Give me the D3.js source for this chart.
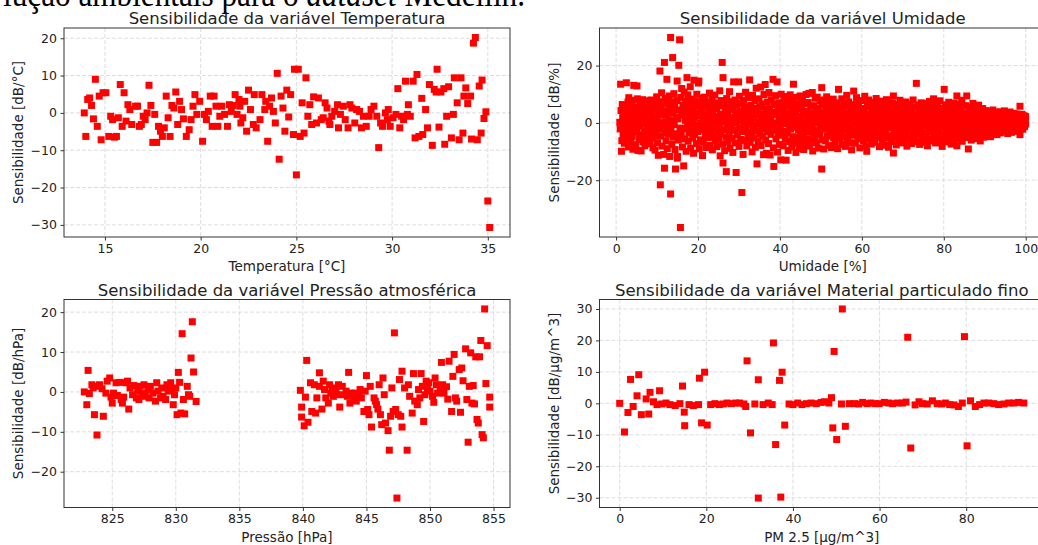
<!DOCTYPE html>
<html>
<head>
<meta charset="utf-8">
<script src="https://d3js.org/d3.v7.min.js"></script>
<style>
  body { margin: 0; background: #fff; }
  svg { display: block; }
</style>
</head>
<body>
<svg id="fig" width="1038" height="545"></svg>
<script>

// values: [x, sensitivity]
const temperatura = [
  [13.92,0],[14.0,-6.3],[14.1,3.6],[14.2,4.0],[14.3,2.0],[14.4,-1.6],[14.5,9.0],[14.6,-3.6],[14.7,4.5],[14.8,-7.2],
  [14.9,5.4],[15.05,5.4],[15.2,-6.3],[15.3,-0.9],[15.4,-1.8],[15.5,-6.5],[15.6,-6.3],[15.7,-1.3],[15.8,7.6],[15.9,-3.6],
  [16.0,5.4],[16.1,-2.2],[16.2,2.2],[16.3,0.9],[16.4,-3.1],[16.6,1.8],[16.7,1.8],[16.8,-3.6],[16.9,-3.1],[17.0,-0.9],
  [17.1,-1.8],[17.2,0],[17.3,7.4],[17.4,2.0],[17.5,-7.9],[17.6,-0.4],[17.7,-7.9],[17.8,-3.6],[17.9,-4.9],[18.0,-6.3],
  [18.1,-4.0],[18.2,4.5],[18.3,-1.3],[18.4,-6.3],[18.5,2.0],[18.6,1.3],[18.7,5.6],[18.8,-3.1],[18.9,3.1],[19.0,0.9],
  [19.1,-1.6],[19.25,-6.3],[19.4,-4.5],[19.5,-1.8],[19.6,1.8],[19.7,4.9],[19.8,-0.4],[19.95,3.1],[20.1,-7.6],[20.2,-0.4],
  [20.3,-1.8],[20.4,0.4],[20.5,4.5],[20.6,-3.6],[20.7,4.5],[20.8,1.8],[20.9,-3.6],[21.0,-0.9],[21.1,1.8],[21.25,-0.4],
  [21.4,-3.6],[21.5,2.2],[21.6,0.4],[21.7,2.0],[21.8,4.9],[21.9,-0.4],[22.0,3.6],[22.05,1.8],[22.1,-2.7],[22.2,-1.3],
  [22.3,3.1],[22.4,-4.9],[22.5,6.1],[22.6,0.9],[22.75,-3.1],[22.8,4.9],[22.9,-4.0],[23.1,-1.8],[23.2,4.9],[23.35,0.9],
  [23.4,3.1],[23.5,-7.6],[23.6,1.8],[23.7,4.0],[23.8,0.4],[23.9,-2.7],[24.0,10.6],[24.1,-12.4],[24.2,4.5],[24.3,1.3],
  [24.4,-4.9],[24.5,6.1],[24.6,-1.1],[24.7,4.9],[24.85,-5.8],[24.9,11.7],[25.0,-16.6],[25.1,11.7],[25.2,-6.3],[25.3,2.7],
  [25.4,-5.4],[25.5,9.4],[25.6,-0.9],[25.7,2.2],[25.8,-3.1],[25.9,4.3],[26.05,-2.7],[26.15,4.0],[26.3,-1.8],[26.4,-1.3],
  [26.5,2.7],[26.6,1.3],[26.7,-2.2],[26.75,-3.1],[26.85,-0.9],[27.0,0.4],[27.15,2.2],[27.2,-4.0],[27.3,-0.4],[27.45,1.8],
  [27.55,-1.8],[27.7,-4.0],[27.8,2.2],[27.9,1.3],[28.05,-2.7],[28.15,0.9],[28.3,0.4],[28.4,-4.0],[28.5,-0.9],[28.65,-3.6],
  [28.8,-0.9],[28.9,0.9],[29.05,1.8],[29.2,-0.9],[29.3,-9.3],[29.4,-2.7],[29.5,-3.6],[29.65,0],[29.75,-1.8],[29.8,0.9],
  [29.9,-3.6],[30.05,-1.3],[30.2,-0.4],[30.3,6.5],[30.4,-4.0],[30.5,-0.9],[30.6,-1.8],[30.7,8.5],[30.8,-0.4],[30.85,2.2],
  [30.95,-0.9],[31.1,8.5],[31.2,-6.7],[31.3,10.3],[31.4,-6.3],[31.55,3.9],[31.6,-5.8],[31.75,0.9],[31.85,-4.0],[31.95,7.6],
  [32.1,-8.7],[32.2,6.3],[32.3,5.6],[32.35,11.7],[32.45,-3.8],[32.55,5.6],[32.7,6.5],[32.75,-8.4],[32.85,-0.9],[32.95,7.0],
  [33.1,-6.7],[33.2,-0.4],[33.25,9.4],[33.4,2.7],[33.5,-7.2],[33.6,9.4],[33.7,-5.4],[33.75,4.5],[33.85,6.7],[33.95,2.5],
  [34.1,4.5],[34.15,-7.0],[34.25,18.7],[34.35,20.2],[34.45,-7.2],[34.55,7.2],[34.65,-5.4],[34.7,8.8],[34.8,-1.5],[34.9,0.3],
  [35.0,-23.6],[35.1,-30.7]
];

const umidade = [
  [0.9,0.2],[1.0,-2.1],[1.1,13.5],[1.2,4.3],[1.3,-9.9],[1.4,-6.2],[1.5,6.4],[1.6,1.8],[1.7,-4.0],[1.8,3.1],[1.9,-0.8],[2.0,-7.1],[2.1,0.9],[2.2,5.2],[2.3,-2.9],[2.5,14.0],[2.6,-5.5],[2.7,2.4],[2.8,-1.3],[2.9,7.3],[3.0,-8.4],[3.1,8.8],[3.2,-3.6],[3.3,1.2],[3.4,4.6],[3.5,-1.9],[3.6,-6.8],[3.7,6.1],[3.8,0.3],[3.9,-4.7],[4.0,2.9],[4.1,-9.2],[4.2,7.9],[4.3,13.1],[4.4,-2.4],[4.5,3.8],[4.6,-0.5],[4.7,5.4],[4.8,-7.6],[4.9,1.5],
  [5.0,-3.3],[5.1,12.9],[5.2,8.4],[5.3,-9.6],[5.4,0.8],[5.5,4.9],[5.6,-5.8],[5.7,2.2],[5.8,-1.1],[5.9,7.0],[6.0,-4.2],[6.1,-9.8],[6.2,3.4],[6.3,5.9],[6.4,-0.2],[6.5,8.1],[6.6,-6.6],[6.7,1.6],[6.8,-2.8],[6.9,4.1],[7.0,-8.0],[7.1,6.7],[7.2,0.5],[7.3,-4.9],[7.4,2.6],[7.5,7.7],[7.6,-1.7],[7.7,-6.1],[7.8,4.4],[7.9,-0.9],[8.0,1.9],[8.1,6.3],[8.2,-3.1],[8.3,-7.3],[8.4,3.0],[8.5,8.0],[8.6,-1.4],[8.7,5.1],[8.8,-5.2],[8.9,0.6],[9.0,-8.7],[9.1,7.2],[9.2,2.1],[9.3,-2.5],[9.4,4.7],[9.5,-9.5],[9.6,-0.4],[9.7,6.0],[9.8,-4.4],[9.9,9.1],
  [10.0,1.3],[10.1,-6.9],[10.2,3.6],[10.3,-11.3],[10.4,7.4],[10.5,-2.2],[10.6,0.1],[10.7,18.1],[10.8,-21.6],[10.9,5.0],[11.0,-4.6],[11.1,10.5],[11.2,-8.1],[11.3,2.7],[11.4,-1.0],[11.5,6.8],[11.6,-11.0],[11.7,4.2],[11.8,21.1],[11.8,-15.8],[11.9,-3.4],[12.0,8.6],[12.1,0.4],[12.2,-6.3],[12.3,3.2],[12.4,15.2],[12.5,-9.0],[12.6,-1.6],[12.7,6.5],[12.8,-4.0],[12.9,1.1],[13.0,9.4],[13.1,-11.7],[13.2,4.8],[13.3,29.8],[13.3,-24.8],[13.4,-2.6],[13.5,7.1],[13.6,-7.5],[13.7,0.7],[13.8,22.8],[13.9,3.5],[14.0,-5.0],[14.1,10.2],[14.2,-0.6],[14.3,5.6],[14.4,-9.3],[14.5,-16.1],[14.6,2.0],[14.7,-3.8],[14.8,7.8],[14.9,14.6],[14.95,-12.3],
  [15.0,-11.7],[15.1,1.4],[15.2,-6.0],[15.3,20.1],[15.4,4.5],[15.5,29.0],[15.6,-1.8],[15.7,-36.5],[15.8,8.9],[15.9,-4.3],[16.0,12.0],[16.1,2.8],[16.2,-8.4],[16.3,6.2],[16.4,-2.0],[16.5,-15.0],[16.6,10.8],[16.7,3.9],[16.8,-5.6],[16.9,0.9],[17.0,7.5],[17.1,-9.9],[17.2,4.6],[17.3,15.8],[17.4,-1.2],[17.5,9.8],[17.6,-6.4],[17.7,2.3],[17.8,-3.5],[17.9,6.6],[18.0,-0.3],[18.1,12.6],[18.2,-8.8],[18.3,4.0],[18.4,-2.7],[18.5,8.3],[18.6,0.2],[18.7,-5.3],[18.8,5.3],[18.9,-10.6],[19.0,14.9],[19.1,1.7],[19.2,-4.1],[19.3,7.6],[19.4,-1.5],[19.5,3.3],[19.6,-7.2],[19.7,10.0],[19.8,-0.7],[19.9,5.8],
  [20.0,-3.0],[20.1,13.9],[20.2,14.6],[20.3,-9.1],[20.4,2.5],[20.5,6.9],[20.6,-5.9],[20.7,0.0],[20.8,4.3],[20.9,-2.3],[21.0,8.7],[21.1,-11.4],[21.2,1.0],[21.3,-6.7],[21.4,5.5],[21.5,-1.3],[21.6,9.0],[21.7,3.0],[21.8,-4.5],[21.9,6.4],[22.0,-8.6],[22.1,0.6],[22.2,2.4],[22.3,-2.9],[22.4,7.2],[22.5,-5.1],[22.6,4.1],[22.7,-0.5],[22.8,10.4],[22.9,-7.8],[23.0,1.9],[23.1,-3.7],[23.2,5.7],[23.3,-1.0],[23.4,8.2],[23.5,-9.4],[23.6,3.6],[23.7,-4.8],[23.8,0.8],[23.9,6.2],[24.0,-2.1],[24.1,9.7],[24.2,-6.2],[24.3,2.2],[24.4,-0.2],[24.5,4.9],[24.6,-8.3],[24.7,7.0],[24.8,-3.3],[24.9,1.4],
  [25.0,-5.7],[25.1,5.9],[25.2,-1.4],[25.3,11.2],[25.4,-11.5],[25.5,3.1],[25.6,-3.9],[25.7,7.8],[25.8,0.3],[25.9,21.1],[26.0,-7.4],[26.1,15.8],[26.1,-14.0],[26.2,2.7],[26.3,-2.4],[26.4,6.5],[26.5,-9.7],[26.6,0.9],[26.7,4.4],[26.8,-5.0],[26.9,-17.0],[27.0,8.5],[27.1,-0.8],[27.2,3.7],[27.3,-6.6],[27.4,1.5],[27.5,6.0],[27.6,-3.2],[27.7,10.9],[27.8,-8.9],[27.9,0.1],[28.0,4.6],[28.1,-1.7],[28.2,7.4],[28.3,-5.4],[28.4,2.0],[28.5,-10.3],[28.6,5.3],[28.7,14.3],[28.8,-2.6],[28.9,0.5],[29.0,8.0],[29.1,-7.0],[29.2,3.4],[29.3,-17.3],[29.4,-0.1],[29.5,6.3],[29.6,-4.2],[29.7,1.7],[29.9,14.3],
  [30.0,-8.2],[30.1,9.3],[30.2,-1.9],[30.3,4.0],[30.4,-5.8],[30.5,0.7],[30.6,6.8],[30.7,-24.3],[30.8,-3.0],[30.9,2.6],[31.0,-11.0],[31.1,7.9],[31.2,-0.9],[31.3,4.8],[31.4,-6.1],[31.5,1.2],[31.6,10.7],[31.7,-2.5],[31.8,3.5],[31.9,-8.0],[32.0,5.6],[32.1,-0.4],[32.2,-4.6],[32.3,8.8],[32.4,2.1],[32.6,15.0],[32.7,-6.8],[32.8,0.2],[32.9,6.1],[33.0,-3.4],[33.1,3.9],[33.2,-10.1],[33.3,9.6],[33.4,-1.6],[33.5,1.8],[33.6,-5.3],[33.7,5.1],[33.8,-0.6],[33.9,7.7],[34.0,-8.5],[34.1,2.9],[34.2,12.1],[34.4,-14.3],[34.5,-2.8],[34.6,4.2],[34.7,-6.4],[34.8,0.4],[34.9,8.4],[35.0,-3.9],
  [35.1,5.7],[35.2,-0.3],[35.3,12.5],[35.4,-7.9],[35.5,2.3],[35.6,-2.0],[35.7,6.6],[35.8,-4.5],[35.9,1.0],[36.0,-11.1],[36.1,9.9],[36.2,3.2],[36.3,-1.1],[36.4,13.4],[36.5,-6.0],[36.6,4.7],[36.7,-10.6],[36.8,0.6],[36.9,7.3],[37.0,-3.1],[37.1,2.4],[37.2,-7.2],[37.3,10.6],[37.4,-0.9],[37.5,5.0],[37.6,-11.2],[37.7,1.3],[37.8,-4.0],[37.9,8.1],[38.0,-1.8],[38.1,3.7],[38.3,15.2],[38.4,-8.7],[38.5,-15.2],[38.6,6.4],[38.7,-2.7],[38.8,0.0],[38.9,9.5],[39.0,-5.6],[39.1,2.8],[39.2,-0.7],[39.3,14.3],[39.4,-10.2],[39.5,4.5],[39.6,-3.6],[39.7,7.0],[39.8,1.1],[39.9,-7.5],
  [40.0,5.2],[40.1,-1.4],[40.2,-12.9],[40.3,10.0],[40.4,2.0],[40.5,-4.3],[40.6,6.9],[40.7,-0.2],[40.8,-8.0],[40.9,3.9],[41.0,9.2],[41.1,-2.9],[41.2,1.4],[41.3,-5.7],[41.4,5.9],[41.5,-13.0],[41.6,0.9],[41.7,8.5],[41.8,-3.5],[41.9,3.3],[42.0,-9.6],[42.1,6.2],[42.2,-0.5],[42.3,2.5],[42.4,-6.5],[42.5,9.8],[42.6,-2.2],[42.7,4.4],[42.8,0.3],[42.9,-8.4],[43.0,7.5],[43.1,-4.8],[43.3,13.5],[43.4,1.6],[43.5,-1.5],[43.6,5.3],[43.7,-7.1],[43.8,3.0],[43.9,-10.3],[44.0,8.9],[44.1,-0.6],[44.2,2.2],[44.3,-5.0],[44.4,6.5],[44.5,-2.4],[44.6,0.8],[44.7,-8.9],[44.8,4.8],[44.9,9.4],
  [45.0,-3.8],[45.1,1.9],[45.2,-6.7],[45.3,5.5],[45.4,-0.9],[45.5,8.2],[45.6,-4.4],[45.7,2.8],[45.8,-9.3],[45.9,0.2],[46.0,6.8],[46.1,-2.0],[46.2,3.6],[46.3,-7.7],[46.4,9.9],[46.5,-1.2],[46.6,4.1],[46.7,-5.5],[46.8,1.0],[46.9,7.1],[47.0,-3.0],[47.1,10.3],[47.2,-8.1],[47.3,2.3],[47.4,-0.4],[47.5,5.8],[47.6,-6.0],[47.7,3.4],[47.8,-1.7],[47.9,10.6],[48.0,-9.8],[48.1,0.6],[48.2,6.0],[48.3,-3.6],[48.4,2.9],[48.5,-5.1],[48.6,8.6],[48.7,-0.1],[48.8,4.6],[48.9,-7.0],[49.0,1.5],[49.1,9.0],[49.2,-2.6],[49.3,5.2],[49.4,-8.8],[49.5,0.4],[49.6,3.9],[49.7,-4.1],[49.8,7.7],[49.9,-1.1],
  [50.1,2.6],[50.2,12.3],[50.2,-16.1],[50.3,-5.9],[50.4,6.3],[50.5,-0.6],[50.6,3.2],[50.7,-9.1],[50.8,8.0],[50.9,-2.2],[51.0,1.2],[51.1,-6.3],[51.2,5.0],[51.3,-0.2],[51.4,9.1],[51.5,-4.6],[51.6,2.4],[51.7,-1.9],[51.8,6.6],[51.9,-7.9],[52.0,0.9],[52.1,4.3],[52.2,-3.3],[52.3,7.4],[52.4,-0.8],[52.5,2.1],[52.6,-8.6],[52.7,5.6],[52.8,-2.0],[52.9,0.2],[53.0,8.3],[53.1,-5.2],[53.2,3.0],[53.3,-1.3],[53.4,6.1],[53.5,-7.3],[53.6,1.8],[53.7,4.9],[53.8,-3.7],[53.9,0.5],[54.0,7.0],[54.1,-9.0],[54.3,11.7],[54.4,-1.6],[54.5,3.7],[54.6,-5.4],[54.7,2.0],[54.8,-0.3],[54.9,5.4],
  [55.0,-3.2],[55.1,8.4],[55.2,-7.5],[55.3,1.3],[55.4,4.0],[55.5,-1.0],[55.6,6.7],[55.7,-4.9],[55.8,0.0],[55.9,2.9],[56.0,-8.2],[56.1,5.9],[56.2,-2.5],[56.3,9.6],[56.4,0.7],[56.5,-5.8],[56.6,3.3],[56.7,-0.9],[56.8,7.3],[56.9,-3.9],[57.0,1.6],[57.1,-6.9],[57.2,4.5],[57.3,-1.4],[57.4,2.2],[57.5,-9.4],[57.6,6.4],[57.7,0.3],[57.8,-2.8],[58.0,11.1],[58.1,3.6],[58.2,-4.3],[58.3,1.0],[58.4,-7.1],[58.5,5.3],[58.6,-0.5],[58.7,8.8],[58.8,-3.0],[58.9,2.5],[59.0,-5.6],[59.1,0.8],[59.2,6.9],[59.3,-1.8],[59.4,3.9],[59.5,-8.7],[59.6,1.4],[59.7,-0.2],[59.8,5.0],[59.9,-4.0],
  [60.0,2.7],[60.1,7.8],[60.2,-2.3],[60.3,0.4],[60.4,-6.2],[60.5,4.7],[60.6,-1.2],[60.7,9.3],[60.8,-4.7],[60.9,1.9],[61.0,-8.0],[61.2,-9.9],[61.3,6.0],[61.4,-0.7],[61.5,3.1],[61.6,-3.4],[61.7,8.0],[61.8,0.1],[61.9,-5.5],[62.0,2.3],[62.1,5.6],[62.2,-1.5],[62.3,-7.4],[62.4,4.3],[62.5,0.6],[62.6,-2.9],[62.7,7.1],[62.8,-4.4],[62.9,1.7],[63.0,-0.3],[63.1,5.1],[63.2,-6.8],[63.3,2.9],[63.4,-1.9],[63.5,8.5],[63.6,-3.6],[63.7,0.9],[63.8,4.6],[63.9,-5.0],[64.0,1.2],[64.1,6.7],[64.2,-2.4],[64.3,-8.3],[64.4,3.4],[64.5,-0.4],[64.6,5.8],[64.7,-4.1],[64.8,2.0],[64.9,7.6],
  [65.0,-6.1],[65.1,0.2],[65.2,3.8],[65.3,-2.6],[65.4,6.2],[65.5,-0.8],[65.6,-7.8],[65.7,4.9],[65.8,1.5],[65.9,-3.3],[66.0,8.1],[66.1,-5.3],[66.2,2.6],[66.3,-1.0],[66.4,5.5],[66.5,-8.5],[66.6,0.5],[66.7,3.5],[66.8,-4.5],[66.9,7.0],[67.0,-1.6],[67.1,1.8],[67.2,-6.5],[67.3,4.2],[67.4,-0.1],[67.5,6.9],[67.7,9.4],[67.7,-10.5],[67.8,-2.7],[67.9,2.3],[68.0,-5.0],[68.1,5.7],[68.2,-0.6],[68.3,3.0],[68.4,-7.7],[68.5,1.1],[68.6,6.4],[68.7,-3.5],[68.8,0.3],[68.9,4.4],[69.0,-5.9],[69.1,2.2],[69.2,-1.3],[69.3,7.9],[69.4,-4.2],[69.5,0.9],[69.6,3.7],[69.7,-7.0],[69.8,5.3],[69.9,-0.5],
  [70.0,2.4],[70.1,-3.1],[70.2,6.0],[70.3,-6.0],[70.4,0.6],[70.5,4.1],[70.6,-1.7],[70.7,7.3],[70.8,-4.7],[70.9,1.5],[71.0,-8.1],[71.1,3.3],[71.2,-0.2],[71.3,5.8],[71.4,-2.5],[71.5,0.4],[71.6,-5.6],[71.7,6.6],[71.8,2.0],[71.9,-1.1],[72.0,4.7],[72.1,-7.2],[72.2,0.9],[72.3,3.5],[72.4,-3.8],[72.5,8.0],[72.6,-0.7],[72.7,1.9],[72.8,-5.3],[72.9,5.5],[73.0,-2.1],[73.1,0.1],[73.3,13.8],[73.4,-6.6],[73.5,2.7],[73.6,-1.4],[73.7,6.3],[73.8,-4.0],[73.9,1.2],[74.0,4.4],[74.1,-7.5],[74.2,0.2],[74.3,3.0],[74.4,-2.8],[74.5,7.0],[74.6,-0.6],[74.7,-5.1],[74.8,2.1],[74.9,5.2],
  [75.0,-3.5],[75.1,0.8],[75.2,-6.8],[75.3,4.0],[75.4,-1.0],[75.5,6.8],[75.6,1.6],[75.7,-4.6],[75.8,3.2],[75.9,-0.1],[76.0,-8.0],[76.1,5.6],[76.2,-2.0],[76.3,2.5],[76.4,-5.7],[76.5,7.5],[76.6,0.5],[76.7,-3.2],[76.8,4.5],[76.9,-1.5],[77.0,1.0],[77.1,-6.3],[77.2,6.1],[77.3,-0.4],[77.4,3.6],[77.5,8.4],[77.6,-4.3],[77.7,1.3],[77.8,-2.4],[77.9,5.0],[78.0,-7.0],[78.1,0.0],[78.2,3.9],[78.3,-1.8],[78.4,6.5],[78.5,-5.0],[78.6,2.2],[78.7,-0.8],[78.8,4.8],[78.9,-3.0],[79.0,0.7],[79.1,7.7],[79.2,-6.1],[79.3,2.8],[79.4,-1.2],[79.5,5.1],[79.6,-8.2],[79.7,1.4],[79.8,-0.3],[79.9,3.4],
  [80.1,11.7],[80.2,-4.4],[80.3,1.9],[80.4,6.3],[80.5,-2.3],[80.6,0.3],[80.7,-6.6],[80.8,4.3],[80.9,-0.9],[81.0,2.6],[81.1,-3.9],[81.2,7.2],[81.3,0.9],[81.4,-5.4],[81.5,3.6],[81.6,-1.6],[81.7,5.4],[81.8,-7.4],[81.9,1.1],[82.0,-0.5],[82.1,4.9],[82.2,-3.1],[82.3,2.0],[82.4,6.9],[82.5,-5.9],[82.6,0.2],[82.7,3.0],[82.8,-2.0],[82.9,5.7],[83.0,-4.8],[83.2,9.4],[83.2,-8.0],[83.3,1.5],[83.4,-1.1],[83.5,4.1],[83.6,-3.4],[83.7,0.6],[83.8,6.6],[83.9,-5.6],[84.0,2.3],[84.1,-0.2],[84.2,4.6],[84.3,-2.6],[84.4,7.9],[84.5,-6.4],[84.6,1.2],[84.7,3.3],[84.8,-1.3],[84.9,5.9],
  [85.0,-4.1],[85.1,0.4],[85.2,2.9],[85.3,-2.2],[85.4,6.0],[85.6,9.4],[85.7,-5.1],[85.8,1.7],[85.9,-0.6],[86.0,-9.1],[86.1,4.2],[86.2,-3.6],[86.3,2.4],[86.4,-1.4],[86.5,5.3],[86.6,0.1],[86.7,-6.0],[86.8,3.7],[86.9,-2.4],[87.0,1.0],[87.1,6.8],[87.2,-4.3],[87.3,2.1],[87.4,-0.7],[87.5,4.5],[87.6,-3.2],[87.7,0.8],[87.8,-5.5],[87.9,3.1],[88.0,-1.7],[88.1,5.6],[88.2,-0.1],[88.3,2.6],[88.4,-4.0],[88.5,6.2],[88.6,1.3],[88.7,-2.9],[88.8,3.9],[88.9,-6.3],[89.0,0.5],[89.1,4.8],[89.2,-1.8],[89.3,2.2],[89.4,-3.7],[89.5,5.0],[89.6,0.0],[89.7,-5.0],[89.8,3.4],[89.9,-1.0],
  [90.0,1.8],[90.1,-2.7],[90.2,4.3],[90.3,-0.4],[90.4,2.8],[90.5,-4.4],[90.6,1.0],[90.7,3.6],[90.8,-1.9],[90.9,0.6],[91.0,-3.4],[91.1,4.0],[91.2,-0.8],[91.3,2.3],[91.4,-4.8],[91.5,1.5],[91.6,3.3],[91.7,-2.2],[91.8,0.2],[91.9,-3.0],[92.0,4.5],[92.1,-0.5],[92.2,2.0],[92.3,-3.9],[92.4,1.2],[92.5,3.7],[92.6,-1.5],[92.7,0.4],[92.8,-2.6],[92.9,2.7],[93.0,-4.1],[93.1,1.1],[93.2,3.0],[93.3,-0.9],[93.4,-2.9],[93.5,2.1],[93.6,0.1],[93.7,-3.5],[93.8,3.9],[93.9,-1.3],[94.0,1.7],[94.1,-2.4],[94.2,0.8],[94.3,3.2],[94.4,-3.2],[94.5,0.3],[94.6,2.4],[94.7,-1.7],[94.8,4.2],[94.9,-0.6],
  [95.0,1.4],[95.1,-3.1],[95.2,2.9],[95.3,0.0],[95.4,-1.9],[95.5,3.5],[95.6,-3.7],[95.7,1.0],[95.8,-0.7],[95.9,2.5],[96.0,-2.5],[96.1,0.6],[96.2,3.8],[96.3,-1.2],[96.4,1.9],[96.5,-3.3],[96.6,0.2],[96.7,2.6],[96.8,-1.8],[96.9,1.2],[97.0,-2.8],[97.1,3.3],[97.2,-0.3],[97.3,1.6],[97.4,-2.1],[97.5,2.8],[97.6,0.7],[97.7,-1.5],[97.8,3.1],[97.9,-2.9],[98.0,1.3],[98.1,-0.2],[98.2,2.3],[98.3,-1.1],[98.4,0.9],[98.5,-2.4],[98.6,5.8],[98.6,-4.1],[98.7,2.0],[98.8,-0.8],[98.9,1.5],[99.0,-1.7],[99.1,3.0],[99.2,0.4],[99.3,-2.2],[99.4,1.8],[99.5,-0.5],[99.6,2.5],[99.7,-1.3],[99.8,0.8],[99.9,1.9],[100.0,-0.4],[100.0,2.2]
];

const pressao = [
  [822.8,0],[823.0,-3.2],[823.1,5.4],[823.2,-0.4],[823.4,1.8],[823.5,1.0],[823.6,-5.7],[823.8,-10.8],[823.8,1.4],[824.0,1.8],
  [824.2,0.8],[824.3,-6.1],[824.5,-0.3],[824.6,2.7],[824.8,3.5],[824.9,-1.3],[825.0,-2.8],[825.1,-0.3],[825.3,2.3],[825.4,-0.9],
  [825.6,2.4],[825.7,-1.9],[825.8,-2.8],[825.9,-1.3],[826.1,2.3],[826.2,2.7],[826.3,-4.3],[826.4,1.0],[826.6,-0.7],[826.7,1.6],
  [826.9,-1.5],[827.0,0.2],[827.1,-1.9],[827.2,1.4],[827.4,-0.4],[827.5,1.8],[827.6,-1.1],[827.8,0.6],[827.9,-1.5],[828.0,1.4],
  [828.2,-0.3],[828.4,-2.3],[828.5,2.3],[828.6,0.2],[828.8,-1.5],[828.9,1.0],[829.0,-1.1],[829.2,-1.9],[829.3,1.8],[829.4,0.2],
  [829.6,2.3],[829.7,0.6],[829.8,-3.2],[829.9,-0.7],[830.0,1.0],[830.1,-5.7],[830.2,4.9],[830.3,2.4],[830.4,-5.3],[830.5,14.6],
  [830.6,-1.9],[830.7,-5.5],[830.9,1.4],[831.0,-0.7],[831.1,-1.1],[831.2,8.5],[831.3,17.6],[831.4,5.0],[831.6,-2.4],
  [839.8,0.4],[839.9,-6.3],[839.9,-3.8],[840.1,-8.5],[840.2,-1.3],[840.3,7.9],[840.4,-7.6],[840.6,2.3],[840.7,-4.9],[840.9,1.8],
  [841.0,-5.3],[841.1,-1.5],[841.3,1.4],[841.3,4.8],[841.5,-4.3],[841.6,2.7],[841.7,0.6],[841.8,-1.5],[842.0,-2.8],[842.1,1.8],
  [842.2,-0.3],[842.3,1.0],[842.4,-1.1],[842.6,0.6],[842.7,-0.7],[842.8,1.8],[842.9,-3.8],[843.1,1.4],[843.2,-0.7],[843.4,0.2],
  [843.5,-1.1],[843.6,4.9],[843.7,-2.8],[843.8,-0.3],[844.0,-1.5],[844.1,-0.3],[844.2,-2.3],[844.4,-0.7],[844.5,0.6],[844.6,-1.5],
  [844.8,-4.9],[844.9,0.2],[845.0,4.1],[845.1,-4.4],[845.2,-5.7],[845.3,1.4],[845.4,-8.8],[845.6,-1.5],[845.7,-2.3],[845.8,-3.2],
  [845.9,-4.3],[846.0,1.8],[846.1,-5.7],[846.2,-8.2],[846.3,3.5],[846.4,-0.7],[846.5,-7.8],[846.7,-9.7],[846.8,-14.6],[846.9,-6.1],
  [847.0,1.0],[847.1,-4.9],[847.2,14.8],[847.3,-4.4],[847.4,-26.6],[847.5,-5.7],[847.6,3.1],[847.7,-6.1],[847.8,-8.8],[847.8,5.2],
  [848.0,1.0],[848.2,-14.6],[848.3,1.8],[848.4,-1.1],[848.6,-5.3],[848.7,4.6],[848.8,-2.3],[849.0,-3.2],[849.1,0.6],[849.2,-1.5],
  [849.3,4.6],[849.4,1.4],[849.5,-7.4],[849.6,-0.7],[849.7,2.7],[849.8,0.6],[849.9,2.3],[850.0,0.2],[850.2,-1.1],[850.3,-2.6],
  [850.4,3.5],[850.5,1.8],[850.6,-0.3],[850.8,1.0],[850.9,7.4],[851.0,1.8],[851.1,-0.3],[851.3,1.3],[851.4,-1.8],[851.5,7.7],
  [851.7,-4.9],[851.8,3.9],[851.9,9.4],[852.0,-1.5],[852.1,-2.3],[852.3,5.6],[852.4,-5.1],[852.5,6.0],[852.6,2.8],[852.8,10.8],
  [852.9,-1.9],[853.0,-12.6],[853.1,1.4],[853.2,9.8],[853.3,-2.8],[853.4,1.6],[853.5,-3.0],[853.6,8.8],[853.7,-6.9],[853.8,-7.8],
  [853.9,8.8],[854.0,12.9],[854.1,-10.7],[854.2,-11.5],[854.3,20.8],[854.4,2.1],[854.5,11.6],[854.7,-3.8],[854.7,-1.3]
];

const pm25 = [
  [0,0],[1.1,-9.1],[1.9,-2.9],[2.5,7.6],[3.1,-1.0],[4.0,2.4],[4.4,9.1],[5.0,-3.6],[6.1,1.4],[6.7,-3.4],
  [7.0,3.5],[7.8,0.5],[8.6,-0.4],[9.2,4.0],[9.7,-0.2],[10.7,0.1],[11.6,-0.4],[12.8,-0.7],[13.9,-0.1],[14.5,5.5],
  [14.9,-2.8],[15.0,-7.1],[16.0,-0.4],[17.0,-0.7],[18.2,-0.4],[18.4,8.0],[18.9,-6.2],[19.6,9.9],[20.2,-6.9],[21.0,-0.4],
  [22.0,-0.1],[23.0,-0.4],[23.9,-0.2],[24.8,0.1],[25.8,-0.1],[26.8,0.1],[27.7,0.1],[28.7,-0.2],[29.1,-1.0],[29.4,13.5],
  [30.2,-9.4],[31.2,-0.2],[32.0,-30.1],[32.0,7.5],[33.1,-0.4],[34.3,0.1],[35.2,-0.4],[35.5,19.2],[36.0,-13.1],[36.9,7.3],
  [37.2,-29.8],[37.5,9.9],[38.1,-6.9],[39.1,-0.2],[40.0,-0.4],[41.1,0.1],[42.1,-0.4],[43.1,-0.1],[44.2,0.1],[45.4,-0.1],
  [46.5,0.3],[47.3,0.5],[48.3,0.1],[48.9,1.8],[49.2,-7.8],[49.5,16.5],[50.1,-11.5],[51.2,-0.2],[51.4,30.0],[52.1,-7.3],
  [53.0,-0.1],[54.2,-0.1],[55.2,-0.2],[56.1,0.3],[57.1,-0.1],[58.0,0.1],[59.0,-0.1],[59.9,-0.1],[61.1,0.3],[62.1,0.1],
  [63.0,-0.1],[64.1,0.1],[65.3,0.1],[66.1,0.4],[66.5,21.0],[67.2,-14.2],[68.2,-0.5],[69.1,0.5],[69.9,-0.1],[71.0,-0.2],
  [72.2,0.8],[73.3,-0.1],[74.3,-0.2],[75.2,0.1],[76.2,-0.4],[77.2,-0.5],[78.2,-1.0],[79.1,0.1],[79.6,21.2],[80.2,-13.5],
  [81.0,0.8],[82.1,-1.0],[83.1,-0.4],[84.1,0.1],[85.2,0.1],[86.4,-0.1],[87.5,-0.4],[88.7,-0.2],[89.8,0.1],[91.0,0.1],
  [92.1,0.3],[93.3,0.1]
];

const titles = ["Sensibilidade da variável Temperatura", "Sensibilidade da variável Umidade",
                "Sensibilidade da variável Pressão atmosférica", "Sensibilidade da variável Material particulado fino"];
const xLabels = ["Temperatura [°C]", "Umidade [%]", "Pressão [hPa]", "PM 2.5 [μg/m^3]"];
const yLabels = ["Sensibilidade [dB/°C]", "Sensibilidade [dB/%]", "Sensibilidade [dB/hPa]", "Sensibilidade [dB/μg/m^3]"];
const xTicks = [[15, 20, 25, 30, 35], [0, 20, 40, 60, 80, 100], [825, 830, 835, 840, 845, 850, 855], [0, 20, 40, 60, 80]];
const yTicks = [[-30, -20, -10, 0, 10, 20], [-20, 0, 20], [-20, -10, 0, 10, 20], [-30, -20, -10, 0, 10, 20, 30]];

const font = "DejaVu Sans";
const svg = d3.select("#fig");

// clipped caption line left over from the page above the figure
svg.append("text")
  .attr("x", 3).attr("y", 6)
  .attr("font-family", "Liberation Serif").attr("font-size", 35)
  .attr("textLength", 522).attr("lengthAdjust", "spacingAndGlyphs")
  .attr("fill", "#000")
  .html('lução ambientais para o <tspan font-style="italic">dataset</tspan> Medellín.');

const boxes = [
  {left: 64, top: 28, w: 446, h: 209},
  {left: 599.5, top: 28, w: 446.5, h: 209},
  {left: 64, top: 299.5, w: 446, h: 208},
  {left: 599.5, top: 299.5, w: 444.5, h: 208}
];
const series = [temperatura, umidade, pressao, pm25];

function padded(vals) {
  const [lo, hi] = d3.extent(vals);
  const m = (hi - lo) * 0.05;
  return [lo - m, hi + m];
}

series.forEach(function(pts, i) {
  const b = boxes[i];
  const g = svg.append("g").attr("transform", "translate(" + b.left + "," + b.top + ")");

  const x = d3.scaleLinear().domain(padded(pts.map(d => d[0]))).range([0, b.w]);
  const y = d3.scaleLinear().domain(padded(pts.map(d => d[1]))).range([b.h, 0]);

  // dashed grid
  g.append("g").selectAll("line").data(xTicks[i]).join("line")
    .attr("x1", d => x(d)).attr("x2", d => x(d))
    .attr("y1", 0).attr("y2", b.h)
    .attr("stroke", "#d4d4d4").attr("stroke-width", 0.8).attr("stroke-dasharray", "4,2");
  g.append("g").selectAll("line").data(yTicks[i]).join("line")
    .attr("x1", 0).attr("x2", b.w)
    .attr("y1", d => y(d)).attr("y2", d => y(d))
    .attr("stroke", "#d4d4d4").attr("stroke-width", 0.8).attr("stroke-dasharray", "4,2");

  // markers
  g.append("g").selectAll("rect").data(pts).join("rect")
    .attr("x", d => x(d[0]) - 3.5).attr("y", d => y(d[1]) - 3.5)
    .attr("width", 7).attr("height", 7)
    .attr("fill", "#ff0000");

  // axes
  const xa = g.append("g").attr("transform", "translate(0," + b.h + ")")
    .call(d3.axisBottom(x).tickValues(xTicks[i]).tickSize(3.5).tickPadding(3.5).tickFormat(d3.format("d")));
  const ya = g.append("g")
    .call(d3.axisLeft(y).tickValues(yTicks[i]).tickSize(3.5).tickPadding(3.5).tickFormat(d3.format("d")));
  [xa, ya].forEach(a => {
    a.select(".domain").remove();
    a.selectAll("line").attr("stroke", "#333");
    a.selectAll("text").attr("font-family", font).attr("font-size", 12.5).attr("fill", "#222");
  });

  // frame
  g.append("rect").attr("x", 0).attr("y", 0).attr("width", b.w).attr("height", b.h)
    .attr("fill", "none").attr("stroke", "#333").attr("stroke-width", 1);

  // title & labels
  g.append("text").attr("x", b.w / 2).attr("y", -4)
    .attr("text-anchor", "middle").attr("font-family", font).attr("font-size", 16.5).attr("fill", "#222")
    .text(titles[i]);
  g.append("text").attr("x", b.w / 2).attr("y", b.h + 34)
    .attr("text-anchor", "middle").attr("font-family", font).attr("font-size", 13.5).attr("fill", "#222")
    .text(xLabels[i]);
  g.append("text").attr("transform", "rotate(-90)")
    .attr("x", -b.h / 2).attr("y", -41)
    .attr("text-anchor", "middle").attr("font-family", font).attr("font-size", 13.5).attr("fill", "#222")
    .text(yLabels[i]);
});
</script>
</body>
</html>
